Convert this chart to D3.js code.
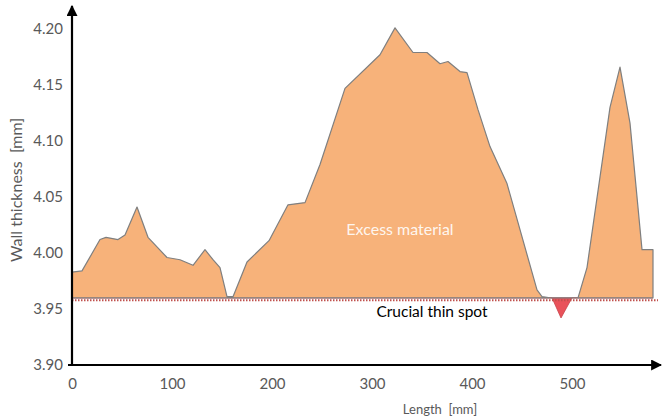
<!DOCTYPE html>
<html>
<head>
<meta charset="utf-8">
<script src="https://d3js.org/d3.v7.min.js"></script>
<style>
  body { margin: 0; background: #fff; }
  svg text { font-family: Lato, "Open Sans", sans-serif; white-space: pre; }
</style>
</head>
<body>
<svg width="662" height="416"></svg>
<script>
// data
var lengthMm = [0, 10, 28, 34, 46, 53, 65, 76, 95, 108, 121, 133, 141, 148, 155, 161, 175, 197,
  216, 233, 248, 273, 308, 323, 341, 355, 368, 376, 388, 395, 406, 418, 435, 465, 470, 478,
  480, 489, 500, 506, 515, 538, 548, 558, 570, 581];
var thickness = [3.983, 3.984, 4.012, 4.014, 4.012, 4.016, 4.041, 4.014, 3.996, 3.994, 3.989, 4.003,
  3.994, 3.987, 3.961, 3.961, 3.992, 4.011, 4.043, 4.045, 4.079, 4.147, 4.177, 4.201, 4.179,
  4.179, 4.169, 4.171, 4.162, 4.161, 4.128, 4.095, 4.062, 3.967, 3.961, 3.960, 3.960, 3.942,
  3.960, 3.960, 3.987, 4.130, 4.166, 4.116, 4.003, 4.003];
var threshold = 3.96;
var xTicks = [0, 100, 200, 300, 400, 500];
var yTicks = [3.90, 3.95, 4.00, 4.05, 4.10, 4.15, 4.20];

var svg = d3.select("svg");

var x = d3.scaleLinear().domain([0, 588]).range([72, 660]);
var y = d3.scaleLinear().domain([3.90, 4.20]).range([365, 29]);

var data = lengthMm.map(function(d, i) { return { len: d, t: thickness[i] }; });

// excess material (above the limit)
var upper = d3.area()
  .x(function(d) { return x(d.len); })
  .y0(y(threshold))
  .y1(function(d) { return y(Math.max(d.t, threshold)); });

// thin spot (below the limit)
var lower = d3.area()
  .x(function(d) { return x(d.len); })
  .y0(y(threshold))
  .y1(function(d) { return y(Math.min(d.t, threshold)); });

svg.append("path")
  .datum(data)
  .attr("d", lower)
  .attr("fill", "#e9525a")
  .attr("stroke", "#c9434a")
  .attr("stroke-width", 0.8);

svg.append("path")
  .datum(data)
  .attr("d", upper)
  .attr("fill", "#f7b27a")
  .attr("stroke", "#7f7f7f")
  .attr("stroke-width", 1.2)
  .attr("stroke-linejoin", "round");

// limit line
svg.append("line")
  .attr("x1", x(0))
  .attr("x2", 658)
  .attr("y1", y(threshold) + 2.5)
  .attr("y2", y(threshold) + 2.5)
  .attr("stroke", "#c0504d")
  .attr("stroke-width", 2)
  .style("stroke-dasharray", "1.5,1.5");

// arrow head
svg.append("defs").append("marker")
  .attr("id", "arrow")
  .attr("viewBox", "0 0 10 10")
  .attr("refX", 9).attr("refY", 5)
  .attr("markerWidth", 5).attr("markerHeight", 5)
  .attr("orient", "auto")
  .append("path")
    .attr("d", "M0,0 L10,5 L0,10 z")
    .attr("fill", "#000");

// axes lines
svg.append("line")
  .attr("x1", x(0)).attr("x2", x(0))
  .attr("y1", y(3.90) + 1).attr("y2", 6)
  .attr("stroke", "#000").attr("stroke-width", 2.2)
  .attr("marker-end", "url(#arrow)");

svg.append("line")
  .attr("x1", x(0) - 4).attr("x2", 661)
  .attr("y1", y(3.90)).attr("y2", y(3.90))
  .attr("stroke", "#000").attr("stroke-width", 2.2)
  .attr("marker-end", "url(#arrow)");

// tick labels
var yAxis = svg.append("g")
  .attr("transform", "translate(" + x(0) + ",0)")
  .call(d3.axisLeft(y).tickValues(yTicks).tickSize(0).tickPadding(9).tickFormat(d3.format(".2f")));
yAxis.select(".domain").remove();
yAxis.selectAll("text").style("font-size", "15px").attr("fill", "#595959");

var xAxis = svg.append("g")
  .attr("transform", "translate(0," + y(3.90) + ")")
  .call(d3.axisBottom(x).tickValues(xTicks).tickSize(0).tickPadding(13));
xAxis.select(".domain").remove();
xAxis.selectAll("text").style("font-size", "15px").attr("fill", "#595959");

// axis titles
svg.append("text")
  .attr("transform", "translate(22,190) rotate(-90)")
  .attr("text-anchor", "middle")
  .style("font-size", "16px")
  .attr("fill", "#595959")
  .text("Wall thickness  [mm]");

svg.append("text")
  .attr("x", 440)
  .attr("y", 414)
  .attr("text-anchor", "middle")
  .style("font-size", "13px")
  .attr("fill", "#595959")
  .text("Length  [mm]");

// annotations
svg.append("text")
  .attr("x", 400)
  .attr("y", 235)
  .attr("text-anchor", "middle")
  .style("font-size", "16px")
  .attr("fill", "#fff")
  .attr("fill-opacity", 0.9)
  .text("Excess material");

svg.append("text")
  .attr("x", 432)
  .attr("y", 317)
  .attr("text-anchor", "middle")
  .style("font-size", "15.5px")
  .attr("fill", "#000")
  .text("Crucial thin spot");
</script>
</body>
</html>
